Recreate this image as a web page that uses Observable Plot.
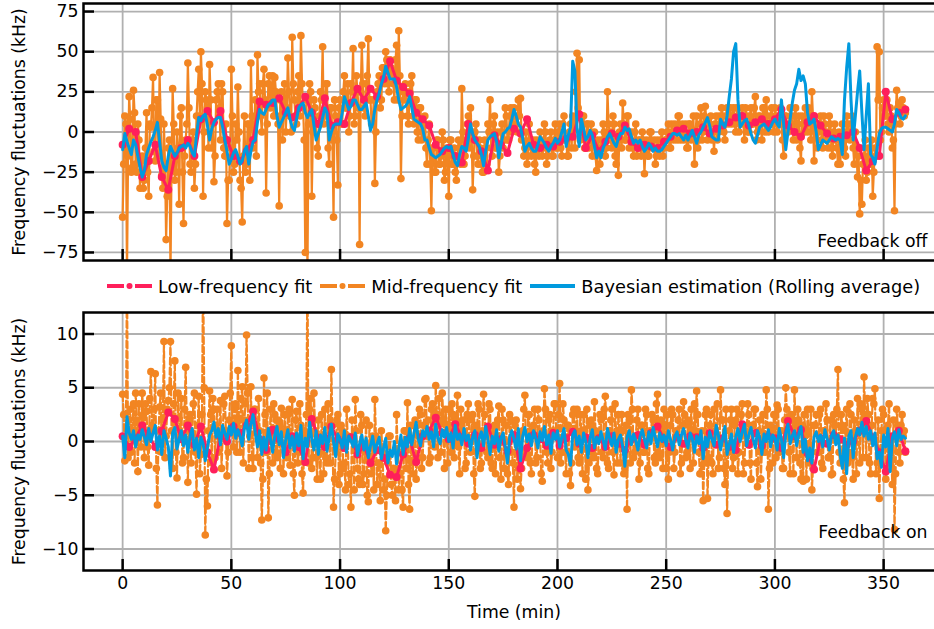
<!DOCTYPE html>
<html>
<head>
<meta charset="utf-8">
<script src="https://cdn.jsdelivr.net/npm/d3@7"></script>
<script src="https://cdn.jsdelivr.net/npm/@observablehq/plot@0.6"></script>
<style>
  html, body { margin: 0; padding: 0; background: #fff; }
  #wrap { width: 934px; height: 629px; overflow: hidden; position: relative; font-family: "DejaVu Sans", sans-serif; }
  #wrap svg { max-width: none !important; display: block; }
  #legend { width: 944px; height: 46px; box-sizing: border-box; padding-left: 83px; display: flex; justify-content: center; align-items: center; font-size: 17.8px; color: #000; }
  .item { display: flex; align-items: center; margin-right: 8px; white-space: nowrap; }
  .item:last-child { margin-right: 0; }
  .item svg { margin-right: 6px; }
</style>
</head>
<body>
<div id="wrap"></div>
<script>
const ORANGE = "#F28522", PINK = "#FF1F5B", BLUE = "#009ADE";
const seriesNames = ["Low-frequency fit", "Mid-frequency fit", "Bayesian estimation (Rolling average)"];
const panelLabels = ["Feedback off", "Feedback on"];
const yLabel = "Frequency fluctuations (kHz)";
const xLabel = "Time (min)";
const xTicks = [0, 50, 100, 150, 200, 250, 300, 350];
const yTicksTop = [-75, -50, -25, 0, 25, 50, 75];
const yTicksBottom = [-10, -5, 0, 5, 10];

// sample times (minutes)
const minutes = d3.range(0, 361, 1);          // whole minutes 0..360
const halfMinutes = d3.range(0.5, 360, 1);    // 0.5..359.5
const lowMinutes = d3.range(0, 361, 3);       // low-frequency fit every 3 min

// ---------- Top panel (feedback off), kHz ----------
const lowTop = [
  -8, 2, 0, -28, -18, -8, -28, -36, -15, -10,
  -5, -15, 8, 13, 6, 13, -5, -15, -18, -12,
  -5, 19, 17, 18, 21, 12, 9, 15, 22, 12,
  5, 21, 4, 6, 5, 18, 27, 20, 27, 22,
  33, 44, 32, 28, 24, 12, 8, 4, -8, -12,
  -10, -15, -19, 5, -5, -12, -24, -2, -8, -13,
  2, -1, 8, -8, -10, -8, -9, -6, -4, -3,
  11, -10, -2, -12, -6, -1, -3, 4, -6, -10,
  -8, -9, -10, -6, -3, 1, 2, -1, 0, 3,
  -1, 2, 4, 6, 9, 10, 4, 6, 8, 5,
  8, 14, 4, 0, -3, 6, 10, 4, -1, -4,
  -3, -2, 0, -10, -24, -18, -15, 25, 8, 12,
  14
];
// mid-frequency fit at whole minutes
const midTop = [
  -53, 10, -90, 22, -25, 26, -20, 5, -35, -15,
  -30, 12, -40, 3, 34, -18, 20, 37, -27, 5,
  -67, -10, -90, 27, -30, 0, -45, 15, -57, -5,
  43, -20, -5, -35, 10, 39, 50, -40, 25, 15,
  42, -10, -31, 20, 30, -5, 25, -15, -57, -30,
  39, -25, 5, 28, -30, -56, 10, -20, 5, 43,
  -10, 20, 48, 30, 0, 39, -38, 30, 15, 35,
  34, 10, -46, 25, 15, 0, 46, 10, 59, 20,
  5, 35, 60, 15, -75, -90, 30, -40, 20, 5,
  -15, 25, 53, 10, 30, -20, 15, -53, 10, -33,
  20, 5, 35, 15, 0, 30, 52, 10, 25, -70,
  54, 15, 30, 58, 20, 5, -32, 25, 35, 20,
  40, 50, 30, 45, 35, 20, 54, 63, -29, 25,
  30, 10, 25, 35, 5, 20, -5, 15, 0, 10,
  -20, 5, -49, -10, -25, -5, -20, 0, -30, -10,
  -40, -5, -20, -25, -15, -10, 27, -20, -5, 10,
  15, -36, 0, -15, -5, -20, -25, -10, 5, 20,
  -15, 10, -10, -25, 0, -10, 15, -5, 10, 0,
  15, 5, 20, 21, 0, -10, -20, 5, -15, -5,
  -25, -10, 0, -15, 5, -20, -10, 0, -15, 5,
  -10, 5, -15, 10, -5, -15, 5, 10, -10, 49,
  45, 0, 10, -10, 5, -5, -15, 0, -24, -10,
  -5, 5, -15, 25, 0, -10, 5, -20, -27, 5,
  18, -5, 10, -10, 0, -15, 5, -10, -5, 0,
  -26, -5, -15, 0, -10, -20, -5, -15, 0, -10,
  -5, 5, -10, 0, 5, -5, 10, 0, -5, 5,
  -10, 5, 0, -20, 10, -5, 15, 0, 16, -5,
  5, -5, -12, 10, 0, 5, 10, -5, 15, 10,
  5, 15, 0, 10, 5, 15, -5, 10, 0, 15,
  5, 22, 0, 10, -5, 15, 20, 0, 10, 5,
  15, 0, 10, 5, -15, 10, 0, 15, 5, 10,
  -5, 10, -18, 5, 15, 0, 10, 25, -18, 5,
  0, 10, -10, 5, -5, 10, -10, 0, -5, -20,
  -20, 5, -10, 10, 0, 5, -10, 0, -28, -51,
  -45, -15, -30, -10, -20, -40, -10, 53, 50, 0,
  20, 10, 5, 15, -10, -49, 26, 18, 10, 15,
  12
];
// mid-frequency fit at half minutes
const midTopHalf = [
  -20, 5, -15, 8, -22, 12, -25, -5, -18, -35,
  -10, -25, 5, 15, -12, 20, -15, 8, -35, -20,
  -40, -5, -20, 5, -25, -10, 10, -25, -15, 5,
  15, -25, 0, -20, 25, 10, 30, 0, 20, -10,
  20, 5, -15, 25, 15, 30, -10, 5, -30, -10,
  10, -20, -5, 0, -35, -15, -25, 5, -30, 10,
  5, -15, 25, 10, 30, 20, 5, 35, 25, 10,
  25, 5, 20, -5, 30, 15, 25, 0, 30, 10,
  25, 10, 30, -5, 20, 5, 25, 0, 15, -10,
  10, 20, 5, 30, -10, 15, -5, 20, -5, 15,
  5, 25, 15, 30, 10, 25, 5, 35, 15, 25,
  30, 10, 35, 20, 5, 20, 0, 30, 15, 40,
  30, 45, 25, 40, 30, 45, 20, 35, 10, 20,
  25, 5, 30, 10, 20, 0, 15, -5, 5, -10,
  -5, -20, -10, -25, -5, -20, -15, -5, -25, -15,
  -5, -20, -10, -30, -5, -20, 0, -15, 5, -10,
  0, -15, 5, -20, -10, -25, -5, -20, 0, -10,
  5, -10, 0, -15, 5, -5, 10, -5, 15, 5,
  10, 0, 10, -5, -15, 0, -15, -5, -10, -20,
  -5, -15, -5, -10, 0, -15, -5, -15, -5, -10,
  0, -10, 5, -5, -15, 0, -10, 5, 25, 15,
  -5, 10, -10, 5, -10, 5, -5, -15, -5, -20,
  -10, 0, -10, 5, -5, 10, -15, -5, 0, -10,
  5, -5, 10, -5, -10, 0, -15, -5, -15, -5,
  -10, -15, 0, -10, -5, -15, -10, -5, -15, -5,
  0, -10, 5, -5, 0, 10, -5, 5, 0, -10,
  5, -5, 10, 0, -10, 5, -5, 10, 5, 0,
  10, 0, 5, -5, 10, 15, 0, 10, 5, 15,
  10, 5, 15, 0, 10, 5, 15, 0, 10, 5,
  15, -5, 10, 5, 15, 0, 10, 5, 15, 0,
  10, 5, 15, -5, 10, 0, 5, 10, -5, 15,
  5, -10, 10, 0, 5, 15, -5, 10, 0, -10,
  5, -5, 10, 0, -10, 5, -15, 5, -10, 0,
  -10, 0, -15, 5, -5, 10, -20, -10, -15, -30,
  -20, -5, -25, -15, -5, -25, -15, 20, -5, 15,
  10, 20, 0, 10, -5, 5, 15, 5, 20, 10
];
const bayesTop = [
  -11, -1, -6, -10, -14, -5, -8, -15, -22, -28,
  -24, -14, -10, -6, -3, 1, 6, -6, -18, -22,
  -24, -15, -9, -12, -15, -13, -10, -9, -8, -10,
  -7, -9, -13, -15, -2, 9, 7, 10, 11, 4,
  -5, 2, 6, 8, 9, 9, 3, -5, -12, -20,
  -17, -13, -11, -15, -20, -18, -12, -9, -20, -12,
  -6, -5, 6, 14, 12, 11, 14, 17, 18, 20,
  20, 10, 3, 6, 9, 12, 15, 8, 3, 1,
  8, 15, 17, 18, 12, 9, 12, 14, 4, -5,
  -1, 3, 9, 15, 12, -5, 0, 4, 5, 5,
  5, 12, 22, 18, 14, 16, 20, 20, 17, 14,
  14, 16, 18, 10, 1, 5, 14, 20, 24, 30,
  34, 41, 37, 33, 33, 33, 28, 20, 14, 15,
  16, 18, 22, 15, 8, 7, 6, 5, 2, -5,
  -5, -10, -14, -15, -16, -15, -14, -12, -10, -9,
  -10, -9, -14, -19, -21, -14, -9, -10, -12, -4,
  5, -1, -5, -7, -9, -14, -21, -12, -5, -3,
  -2, -1, -6, -16, -8, -1, 0, 2, 3, 8,
  14, 10, 5, 3, -4, -12, -9, -7, -10, -12,
  -12, -8, -3, -5, -7, -10, -12, -9, -7, -4,
  -7, -5, 0, 5, -9, -2, 3, 44, 38, 2,
  -9, 8, 2, -5, -3, 1, -2, -9, -16, -12,
  -16, -10, -7, -3, -1, -4, -7, -9, -4, -1,
  -1, 3, 1, 2, -3, -7, -5, -7, -5, -9,
  -12, -10, -7, -9, -12, -10, -12, -12, -11, -9,
  -7, -5, -3, -1, -1, -2, -1, -3, -5, -2,
  -5, -2, 1, -3, -7, -2, 0, 3, 6, 9,
  4, -3, -4, -5, -5, 8, 5, 3, 10, 22,
  33, 50, 55, 20, 3, 5, 7, 8, 4, -1,
  -5, -7, -2, 3, 4, 5, 3, 1, 3, 6,
  8, 5, 3, 20, 5, -11, 0, 8, 18, 26,
  30, 39, 32, 35, 30, 12, 5, 6, 8, 0,
  -11, -8, -5, -6, -7, -5, -3, -4, -5, -4,
  -5, -14, 20, 40, 55, 20, -5, 10, 25, 38,
  12, -11, 10, 30, -14, -16, -20, -10, -1, 2,
  3, 3, 2, 1, 0, 5, 14, 12, 9, 8,
  10
];

// ---------- Bottom panel (feedback on), kHz ----------
const lowBottom = [
  0.5, -0.5, 0.3, 1.5, 0.5, -0.5, 1.0, 2.7, 2.1, 0.2,
  1.5, -0.3, 1.4, -1.0, -2.6, 0.5, 0.0, 1.4, 0.8, 1.5,
  2.8, 0.2, -0.8, 1.1, 0.2, -1.0, 0.5, -0.5, -1.9, 2.1,
  0.3, -0.5, 1.4, 0.2, -0.6, 0.4, -1.2, -0.4, -2.0, -0.8,
  -1.5, -3.1, -3.3, -1.2, 0.3, -1.9, 0.5, 1.0, 2.2, 0.8,
  0.2, 1.6, 0.4, -0.2, 0.6, -0.6, 1.4, -0.3, 0.2, -0.9,
  0.6, -2.5, -0.6, 0.6, 0.2, -0.4, 0.8, -0.4, 0.3, 0.9,
  -0.2, 0.4, -0.6, 0.3, -0.5, 0.5, -0.2, -0.8, 0.2, 0.6,
  -0.3, 0.8, 1.4, 0.2, -0.5, 0.4, -0.2, 0.5, 0.4, -0.6,
  0.8, -0.3, 0.3, -0.5, -0.8, 1.6, -0.3, 0.8, -0.4, 0.5,
  0.3, -0.6, 1.9, 0.5, 1.1, -1.1, -2.6, 0.3, -0.2, 0.6,
  0.2, -0.3, 0.0, 1.0, 1.9, 0.4, -1.0, -2.8, 0.5, 1.0,
  -0.9
];
const midBottom = [
  4.4, -1.8, 16, 2.0, -1.0, 3.5, 4.5, -2.8, 1.5, 4.5,
  -1.5, 2.8, -2.2, 6.5, 1.0, 6.3, -5.9, 3.2, -1.0, 9.3,
  0.5, 3.8, 9.3, -2.5, 7.5, -3.4, 2.2, 4.0, -1.5, 6.9,
  -3.8, 2.5, 0.8, 4.5, -4.9, 4.2, -1.2, 16, -8.7, -6.0,
  4.7, -2.0, 3.0, 1.2, -1.0, 3.8, 0.5, 4.2, -3.2, 2.0,
  8.9, -0.5, 3.5, 6.6, -1.0, 5.1, 2.0, 9.9, -2.5, 5.1,
  -2.5, 3.0, -1.5, 1.0, -7.3, 5.9, -1.0, -7.1, 3.0, -2.0,
  2.5, -1.5, 1.5, 3.1, -3.0, 0.8, 2.5, -2.2, 3.9, -5.0,
  2.8, -1.0, 1.5, -4.8, 0.5, 16, 3.0, -2.5, 4.5, -1.5,
  2.0, -3.5, 0.5, 3.0, -2.0, 1.5, 6.7, -6.1, -1.0, 2.5,
  -3.0, 1.0, -2.0, 3.0, -4.0, -6.1, 0.5, 3.9, -2.5, -4.0,
  1.5, -3.0, 2.0, -5.6, -1.5, 0.5, 3.9, -4.0, -2.0, 1.0,
  -4.5, -8.3, -2.0, 0.5, -5.0, -3.0, 2.5, -4.5, -1.0, -6.1,
  1.0, 3.6, -6.3, -2.0, 1.5, -3.5, 0.5, 2.5, -1.5, 3.9,
  0.5, -2.0, 3.0, 1.0, 5.2, -1.5, 2.0, 4.5, -2.5, 1.5,
  3.0, -1.0, 2.5, 0.0, 4.3, -3.0, 1.5, 2.0, -2.0, 3.5,
  -1.0, 2.5, -5.1, 1.0, 3.0, -2.0, 4.4, 0.5, -1.5, 3.0,
  -2.5, 1.5, -0.5, 3.3, -3.5, 2.0, 0.0, -3.0, 2.5, -1.0,
  -6.1, 2.0, -2.5, -4.4, 1.0, 4.3, -1.5, 2.5, -3.0, 1.5,
  -2.0, 3.0, 0.5, -3.7, 4.9, -1.0, 2.0, -2.5, 1.0, 3.5,
  -1.5, 5.4, -1.0, 2.0, -3.0, 1.5, -4.1, 2.5, -0.5, 3.0,
  -2.0, 1.0, 2.5, -3.5, -4.5, 1.5, -1.0, 3.7, -2.5, 0.5,
  2.0, -1.5, 4.2, -2.0, 1.0, 3.0, -3.1, 0.5, 2.5, -2.0,
  1.0, -2.5, -6.3, 2.0, 4.8, -1.5, 0.5, 3.0, -2.0, 1.5,
  -1.0, 2.5, -3.0, 0.5, 2.0, -2.0, 4.4, -1.5, 1.0, 3.0,
  -2.5, -3.5, 1.5, 2.5, -1.0, 0.5, 3.0, -2.0, 3.7, -1.5,
  2.0, -2.5, 1.0, 3.5, 4.7, -1.0, -3.0, -5.5, 2.5, -5.3,
  1.5, -2.0, 3.0, 0.5, -2.5, 4.8, 2.0, -4.0, -6.7, 1.0,
  3.0, -1.5, 2.0, -3.0, 1.0, 3.5, -2.0, 0.5, 2.5, -3.5,
  1.5, 3.0, -4.2, 2.0, -1.0, 0.5, 4.8, -6.3, 1.5, -2.0,
  2.5, 3.4, -1.0, 1.0, -2.5, 5.0, 0.5, -3.0, 2.0, 4.8,
  -1.5, 2.0, -3.5, -3.7, 1.0, 3.0, -2.0, -4.5, 1.5, 2.5,
  -1.0, 3.0, -2.5, 1.0, 2.0, -1.5, -3.1, 2.5, 0.5, 6.7,
  -2.0, 1.5, -5.7, 3.0, -1.0, 2.5, -3.5, 1.0, 4.0, -2.0,
  3.0, 6.0, -1.5, 2.5, -3.0, 4.0, 4.9, -2.0, -5.3, 1.0,
  2.5, -3.5, 1.5, -2.0, -4.0, -8.2, 3.0, -1.0, 1.5, 0.5,
  -1.0
];
const midBottomHalf = [
  2.5, 0.5, -1.5, 3.0, 1.0, -2.0, 2.0, 3.5, -0.5, 2.5,
  3.5, -0.5, 4.0, 1.5, 3.0, -2.5, 1.0, 4.5, 2.0, -1.5,
  3.0, 5.0, 1.0, 3.5, -1.0, 4.5, 0.5, -2.0, 3.0, 1.5,
  2.0, -2.0, 3.5, -1.0, 1.5, -3.0, 2.5, 5.0, -3.5, 1.0,
  2.5, 4.0, -1.5, 3.0, 0.5, -2.5, 3.5, 1.0, -1.0, 4.5,
  1.5, 3.0, -1.0, 2.0, 4.0, -2.0, 3.5, 4.5, 0.5, -1.5,
  3.0, 1.5, 4.0, -2.0, -3.5, 2.5, 4.5, -3.0, 1.0, 3.5,
  -1.0, 2.0, -2.5, 1.0, 2.5, -1.5, 3.0, 0.5, -3.0, 2.0,
  -2.0, 3.5, -3.0, 1.0, 2.5, -2.0, 4.0, -1.5, 1.0, -3.5,
  -1.0, 2.5, -3.0, -1.5, 3.5, -2.0, 1.5, -3.5, 2.0, -4.0,
  1.5, -2.5, -4.5, 0.5, -3.0, 2.0, -4.5, 1.0, -3.5, 2.5,
  -4.0, -1.0, -5.0, 1.5, -3.0, -4.5, 0.5, -2.0, -5.5, -1.0,
  -3.5, -5.0, 0.5, -4.0, -2.5, -5.5, -1.0, -3.0, -4.5, 1.0,
  -2.5, -4.0, 1.5, -3.0, 2.0, -1.5, 3.0, -2.5, 1.5, 4.0,
  2.0, -1.5, 3.5, -0.5, 2.5, 4.0, -1.0, 2.0, 3.0, -2.0,
  1.5, 3.5, -1.5, 2.0, -0.5, 3.0, 1.0, -2.5, 2.5, 0.0,
  2.0, -3.0, 1.5, 3.5, -2.5, 1.0, 2.5, -1.0, 3.5, -2.0,
  1.0, -3.0, 2.0, -1.5, 3.0, -2.5, 1.5, -4.0, 2.0, -2.0,
  1.5, -3.5, 0.5, -2.5, 3.0, -1.0, 2.5, -2.0, 1.0, 3.0,
  -1.5, 2.0, -3.0, 1.0, 3.0, -2.0, 2.5, -1.0, 3.5, 0.5,
  2.5, -2.0, 3.5, -1.0, 1.5, -3.0, -2.0, 3.0, 1.0, -1.5,
  2.5, -3.0, 1.0, 3.0, -2.0, 2.0, -1.5, 1.0, -3.0, 2.5,
  -1.0, 3.0, 0.5, -2.5, 2.0, -1.0, 3.5, -2.0, 1.0, 2.5,
  -3.0, 1.5, 2.5, -2.0, 3.0, -1.0, 2.0, -3.5, 1.5, -1.0,
  3.0, -2.5, 1.0, 2.5, -1.5, 3.5, -1.0, 2.0, -2.5, 1.5,
  2.5, -1.0, 3.0, -2.5, 1.0, 2.0, -3.0, 1.5, 2.5, -1.0,
  1.5, 3.0, -2.0, 1.0, 2.5, -3.0, 1.0, -2.0, 3.0, -1.5,
  2.5, -3.0, 1.0, 3.5, -1.5, 2.0, -2.5, 3.0, -1.0, 2.0,
  -2.5, 1.5, 3.0, -1.0, 2.5, -3.0, 1.0, 3.5, -2.0, 1.5,
  3.0, -2.0, 1.0, -3.5, 2.5, -1.0, 3.0, -2.5, 1.0, 2.5,
  -1.5, 3.0, 1.0, -2.5, 2.0, 3.0, -1.0, 2.5, -3.0, 1.5,
  3.0, -2.0, 1.5, 2.5, -3.5, 1.0, 3.0, -2.5, 1.5, -1.0,
  2.5, -2.0, 1.0, 3.5, -1.5, 2.0, -3.0, 1.5, 3.0, -1.0,
  2.5, -3.5, 1.0, -2.0, 3.5, -1.5, 2.0, -3.0, 1.0, 3.5,
  -1.5, 2.5, 4.0, -2.0, 1.5, 3.5, -3.0, 2.0, -1.5, 3.0,
  1.0, -2.5, 3.5, -1.0, 2.0, -3.0, 1.5, -2.0, 2.5, 1.0
];
const bayesBottom = [
  0.5, -1.5, 2.3, 0.8, 0.2, 1.0, -0.5, 0.6, 0.2, 1.1,
  0.4, -0.3, 1.2, 0.0, 0.8, 1.5, -0.8, 0.5, -1.2, 1.0,
  0.3, -0.5, -3.2, 0.8, 1.3, -0.7, 0.2, 1.0, -0.4, 0.6,
  -1.0, 0.5, 1.2, -0.8, 0.3, -1.5, 0.4, -0.2, -1.8, -0.6,
  0.6, 1.0, 1.8, 0.4, 1.2, -0.3, 1.5, 0.8, 0.2, 1.4,
  0.6, 1.7, 0.3, 1.1, 0.5, -0.4, 1.3, 2.0, 0.2, 1.6,
  2.5, 0.8, -0.5, 1.0, -1.2, 0.4, -0.8, 1.2, 0.3, -1.0,
  0.6, 1.4, -0.3, 0.9, -1.5, 0.2, 1.1, -0.6, 0.5, -0.9,
  0.8, -0.4, 1.5, -1.6, 0.3, -0.5, 1.8, 0.2, -0.8, 1.0,
  -1.2, 0.6, -0.2, 1.3, -0.9, 0.4, 1.6, 0.0, -1.4, 0.7,
  0.2, -0.6, 1.0, -1.0, 0.5, 0.1, -0.5, 0.8, -1.3, -0.2,
  0.6, -0.8, 0.3, -1.5, -0.4, 0.5, -1.0, -0.2, 0.4, -1.6,
  -0.6, 0.3, -2.0, -0.8, -1.4, 0.0, -2.1, -0.7, 0.6, -1.2,
  0.4, -0.5, 1.2, -0.3, 0.8, 1.8, 0.2, -0.4, 1.0, 0.5,
  1.4, 0.2, 0.9, -0.5, 1.6, 0.3, -0.2, 1.1, 0.4, 1.3,
  0.0, 0.8, -0.6, 1.5, 0.2, 0.7, -0.3, 1.2, 0.1, 0.6,
  -0.8, 0.4, 1.0, -1.5, 0.3, 0.9, -0.4, 1.4, 0.2, -1.2,
  0.5, -0.2, 1.1, -0.9, 0.3, 0.8, -0.5, -2.0, 0.4, 1.0,
  0.2, -0.7, 1.2, -1.8, 0.5, 1.3, 0.0, 0.7, -0.4, 1.0,
  0.3, -0.6, 0.9, 0.1, 1.4, -0.3, 0.6, -1.1, 0.8, 0.2,
  1.0, -0.5, 0.4, 1.2, -0.8, -1.2, -2.2, 0.6, 1.0, -0.3,
  0.5, -1.0, 0.8, 0.0, -1.5, 0.3, 1.1, -0.6, 0.4, -0.2,
  0.9, 0.1, -0.7, 1.2, 0.3, -0.4, 0.8, -1.0, 0.2, 0.6,
  -0.5, -2.3, 0.4, 1.0, -0.3, 0.7, 0.1, -0.8, 0.5, 1.1,
  0.2, -0.6, 0.9, -0.2, 1.3, 0.4, -0.5, 0.8, 0.0, 0.6,
  -0.4, 1.0, 0.2, -0.8, 0.5, 0.9, -0.3, 0.6, 1.2, 0.1,
  -0.6, 0.8, 0.3, -1.0, 0.5, -0.2, 1.0, -1.6, 0.4, -0.5,
  0.9, 0.2, -0.4, 1.5, 0.6, -0.8, 0.3, 1.4, -1.2, -0.3,
  0.7, -1.0, 0.4, 1.2, 0.0, 0.9, 1.6, -0.4, 0.6, 1.3,
  0.2, -0.6, 1.0, 0.4, -1.2, 0.7, 0.0, 1.1, -0.5, 0.6,
  0.3, -0.8, 1.2, 0.2, -1.5, 0.8, 1.6, -0.2, 0.5, 1.0,
  -0.4, 0.7, 1.4, -1.0, 0.2, -1.8, -0.6, -2.0, 0.4, 0.9,
  0.0, 0.6, -0.5, 1.1, 0.3, -0.8, 0.5, 1.0, -0.3, 0.6,
  -1.2, -2.5, 0.3, -3.0, 0.5, 1.0, -1.5, 0.4, 1.2, 0.6,
  1.8, 0.5, 1.4, 0.2, 1.0, -0.4, 0.8, -1.6, -1.0, -2.4,
  0.6, -0.5, 1.2, -2.8, 0.3, 0.9, -0.4, 1.1, 0.2, 0.5,
  0.3
];

const FONT = "DejaVu Sans";
const FS = 17.3;
const fmt = d => (d < 0 ? "\u2212" + Math.abs(d) : String(d));

function merge(whole, half) {
  const rows = minutes.map((t, i) => ({t, v: whole[i]}))
    .concat(halfMinutes.map((t, i) => ({t, v: half[i]})));
  return rows.sort((a, b) => a.t - b.t);
}

function panel({low, mid, midHalf, bayes, yDomain, yTicks, height, marginBottom, label, labelDy, midDash, showX}) {
  const W = 944, ML = 83, MR = 0, MT = 3;
  const xDomain = [-18, 378];
  const kx = (W - ML - MR) / (xDomain[1] - xDomain[0]);
  const ky = (height - MT - marginBottom) / (yDomain[1] - yDomain[0]);
  const tickLen = 11;
  const midData = merge(mid, midHalf);
  const bayesData = minutes.map((t, i) => ({t, v: bayes[i]}));
  const lowData = lowMinutes.map((t, i) => ({t, v: low[i]}));
  const marks = [
    Plot.ruleX(xTicks, {x: d => d, stroke: "#b0b0b0", strokeWidth: 1.8}),
    Plot.ruleY(yTicks, {y: d => d, stroke: "#b0b0b0", strokeWidth: 1.8}),
    Plot.line(midData, {x: "t", y: "v", stroke: ORANGE, strokeWidth: 2.2, strokeDasharray: midDash, clip: true}),
    Plot.dot(midData, {x: "t", y: "v", fill: ORANGE, r: 3.8, clip: true}),
    Plot.line(lowData, {x: "t", y: "v", stroke: PINK, strokeWidth: 3, clip: true}),
    Plot.dot(lowData, {x: "t", y: "v", fill: PINK, r: 4, clip: true}),
    Plot.line(bayesData, {x: "t", y: "v", stroke: BLUE, strokeWidth: 3, clip: true}),
    Plot.frame({stroke: "black", strokeWidth: 2.5}),
    Plot.ruleY(yTicks, {y: d => d, x1: xDomain[0], x2: xDomain[0] + tickLen / kx, stroke: "black", strokeWidth: 2.5}),
    Plot.ruleX(xTicks, {x: d => d, y1: yDomain[0], y2: yDomain[0] + tickLen / ky, stroke: "black", strokeWidth: 2.5}),
    Plot.text([label], {text: d => d, frameAnchor: "bottom-right", textAnchor: "end", lineAnchor: "bottom", dx: -17, dy: labelDy, fontSize: FS, fill: "black"}),
    Plot.text([yLabel], {text: d => d, frameAnchor: "left", rotate: -90, dx: -64, textAnchor: "middle", lineAnchor: "middle", fontSize: FS, fill: "black"})
  ];
  if (showX) {
    marks.push(Plot.text([xLabel], {text: d => d, frameAnchor: "bottom", dy: 42, lineAnchor: "middle", fontSize: FS, fill: "black"}));
  }
  return Plot.plot({
    width: W, height, marginLeft: ML, marginRight: MR, marginTop: MT, marginBottom,
    style: {fontFamily: FONT, fontSize: FS + "px", color: "black", background: "white", maxWidth: "none"},
    x: {domain: xDomain, ticks: xTicks, tickSize: 0, tickPadding: 6, label: null, axis: showX ? "bottom" : null, tickFormat: d => String(d)},
    y: {domain: yDomain, ticks: yTicks, tickSize: 0, tickPadding: 5, label: null, tickFormat: fmt},
    marks
  });
}

const wrap = document.getElementById("wrap");
wrap.appendChild(panel({
  low: lowTop, mid: midTop, midHalf: midTopHalf, bayes: bayesTop,
  yDomain: [-80, 80], yTicks: yTicksTop,
  height: 263, marginBottom: 3, label: panelLabels[0], labelDy: -14,
  midDash: null, showX: false
}));

// legend
const legend = document.createElement("div");
legend.id = "legend";
const colors = [PINK, ORANGE, BLUE];
seriesNames.forEach((name, i) => {
  const item = document.createElement("div");
  item.className = "item";
  const svg = d3.create("svg").attr("width", 45).attr("height", 20);
  if (i < 2) {
    svg.append("line").attr("x1", 0).attr("x2", 45).attr("y1", 10).attr("y2", 10)
      .attr("stroke", colors[i]).attr("stroke-width", 4).attr("stroke-dasharray", "17,5.5,0,5.5,17");
    svg.append("circle").attr("cx", 22.5).attr("cy", 10).attr("r", 3).attr("fill", colors[i]);
  } else {
    svg.append("line").attr("x1", 0).attr("x2", 45).attr("y1", 10).attr("y2", 10)
      .attr("stroke", colors[i]).attr("stroke-width", 4);
    svg.append("circle").attr("cx", 22.5).attr("cy", 10).attr("r", 2).attr("fill", colors[i]);
  }
  item.appendChild(svg.node());
  const span = document.createElement("span");
  span.textContent = name;
  item.appendChild(span);
  legend.appendChild(item);
});
wrap.appendChild(legend);

wrap.appendChild(panel({
  low: lowBottom, mid: midBottom, midHalf: midBottomHalf, bayes: bayesBottom,
  yDomain: [-12, 12], yTicks: yTicksBottom,
  height: 320, marginBottom: 59, label: panelLabels[1], labelDy: -33,
  midDash: "7,3", showX: true
}));
</script>
</body>
</html>
